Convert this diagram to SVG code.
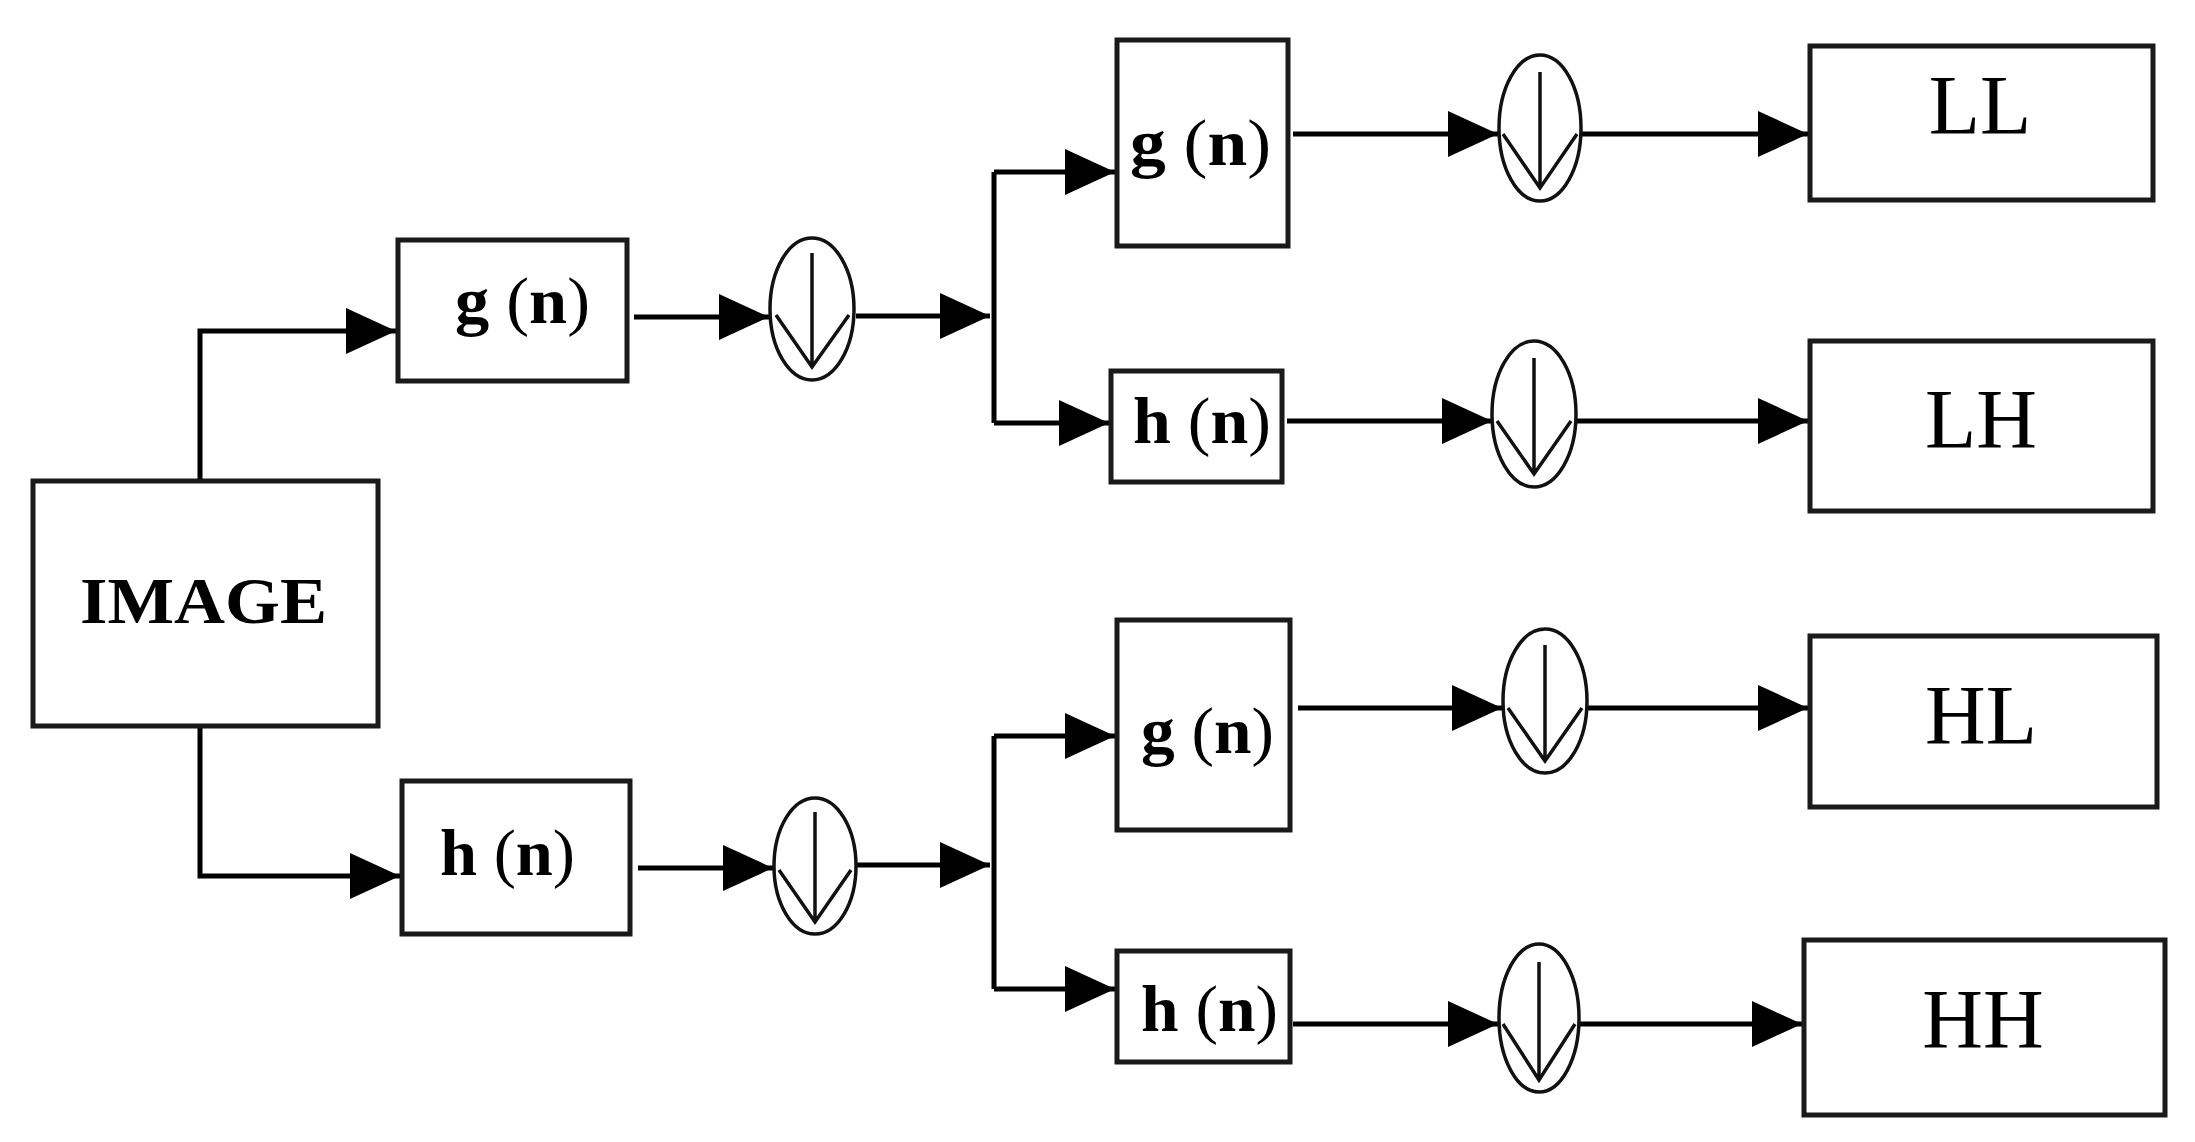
<svg xmlns="http://www.w3.org/2000/svg" width="2195" height="1142" viewBox="0 0 2195 1142">
<style>
.box{fill:#fff;stroke:#1a1a1a;stroke-width:5}
.ell{fill:none;stroke:#111;stroke-width:3.5}
.dn{fill:none;stroke:#111;stroke-width:3.5;stroke-linejoin:miter}
.con{fill:none;stroke:#000;stroke-width:5}
.lbl{font-family:"Liberation Serif","Times New Roman",serif;font-weight:bold;font-size:66px;fill:#000}
.p{font-weight:normal}
.big{font-family:"Liberation Serif","Times New Roman",serif;font-size:84px;fill:#000;text-anchor:middle}
</style>
<defs>
<marker id="ah" viewBox="0 0 50 46" refX="50" refY="23" markerWidth="50" markerHeight="46" markerUnits="userSpaceOnUse" orient="auto">
<path d="M0,0 L50,23 L0,46 Z" fill="#000"/>
</marker>
</defs>
<rect width="2195" height="1142" fill="#fff"/>

<g id="connectors">
<path class="con" d="M200,480 V331 H396" marker-end="url(#ah)"/>
<path class="con" d="M200,727 V876 H400" marker-end="url(#ah)"/>
<path class="con" d="M634,317 H769" marker-end="url(#ah)"/>
<path class="con" d="M856,316 H990" marker-end="url(#ah)"/>
<path class="con" d="M638,868 H773" marker-end="url(#ah)"/>
<path class="con" d="M857,865 H990" marker-end="url(#ah)"/>
<path class="con" d="M994,172 V423"/>
<path class="con" d="M994,736 V989"/>
<path class="con" d="M994,172 H1115" marker-end="url(#ah)"/>
<path class="con" d="M994,423 H1109" marker-end="url(#ah)"/>
<path class="con" d="M994,736 H1115" marker-end="url(#ah)"/>
<path class="con" d="M994,989 H1115" marker-end="url(#ah)"/>
<path class="con" d="M1293,134 H1498" marker-end="url(#ah)"/>
<path class="con" d="M1582,134 H1808" marker-end="url(#ah)"/>
<path class="con" d="M1287,421 H1492" marker-end="url(#ah)"/>
<path class="con" d="M1577,421 H1808" marker-end="url(#ah)"/>
<path class="con" d="M1298,708 H1502" marker-end="url(#ah)"/>
<path class="con" d="M1588,708 H1808" marker-end="url(#ah)"/>
<path class="con" d="M1293,1024 H1498" marker-end="url(#ah)"/>
<path class="con" d="M1580,1024 H1802" marker-end="url(#ah)"/>
</g>

<g id="image">
<rect class="box" x="33" y="481" width="345" height="245"/>
<text class="lbl" x="80" y="623" font-size="70" textLength="247" lengthAdjust="spacingAndGlyphs">IMAGE</text>
</g>

<g id="g1">
<rect class="box" x="398" y="240" width="229" height="141"/>
<text class="lbl" x="455" y="323" textLength="135" lengthAdjust="spacingAndGlyphs">g <tspan class="p">(</tspan>n<tspan class="p">)</tspan></text>
</g>
<g id="h1">
<rect class="box" x="402" y="781" width="228" height="153"/>
<text class="lbl" x="440" y="875" textLength="135" lengthAdjust="spacingAndGlyphs">h <tspan class="p">(</tspan>n<tspan class="p">)</tspan></text>
</g>

<g id="ds1">
<ellipse class="ell" cx="812" cy="309" rx="42" ry="71"/>
<path class="dn" d="M812,253 V367 M776,315 L812,367 L849,315"/>
</g>
<g id="ds2">
<ellipse class="ell" cx="815" cy="866" rx="41" ry="68"/>
<path class="dn" d="M815,812 V922 M779,870 L815,922 L851,870"/>
</g>

<g id="g2">
<rect class="box" x="1117" y="40" width="171" height="206"/>
<text class="lbl" x="1130" y="165" textLength="141" lengthAdjust="spacingAndGlyphs">g <tspan class="p">(</tspan>n<tspan class="p">)</tspan></text>
</g>
<g id="h2">
<rect class="box" x="1111" y="371" width="171" height="111"/>
<text class="lbl" x="1133" y="443" textLength="138" lengthAdjust="spacingAndGlyphs">h <tspan class="p">(</tspan>n<tspan class="p">)</tspan></text>
</g>
<g id="g3">
<rect class="box" x="1117" y="620" width="173" height="210"/>
<text class="lbl" x="1141" y="753" textLength="133" lengthAdjust="spacingAndGlyphs">g <tspan class="p">(</tspan>n<tspan class="p">)</tspan></text>
</g>
<g id="h3">
<rect class="box" x="1117" y="951" width="173" height="111"/>
<text class="lbl" x="1141" y="1031" textLength="137" lengthAdjust="spacingAndGlyphs">h <tspan class="p">(</tspan>n<tspan class="p">)</tspan></text>
</g>

<g id="ds3">
<ellipse class="ell" cx="1540" cy="128" rx="41" ry="73"/>
<path class="dn" d="M1540,72 V188 M1503,134 L1540,188 L1577,134"/>
</g>
<g id="ds4">
<ellipse class="ell" cx="1534" cy="414" rx="42" ry="73"/>
<path class="dn" d="M1534,358 V474 M1497,421 L1534,474 L1571,421"/>
</g>
<g id="ds5">
<ellipse class="ell" cx="1545" cy="701" rx="42" ry="72"/>
<path class="dn" d="M1545,645 V761 M1508,708 L1545,761 L1582,708"/>
</g>
<g id="ds6">
<ellipse class="ell" cx="1539" cy="1018" rx="40" ry="74"/>
<path class="dn" d="M1539,962 V1080 M1503,1024 L1539,1080 L1575,1024"/>
</g>

<g id="LL">
<rect class="box" x="1810" y="46" width="343" height="154"/>
<text class="big" x="1980" y="134">LL</text>
</g>
<g id="LH">
<rect class="box" x="1810" y="341" width="343" height="170"/>
<text class="big" x="1981" y="448">LH</text>
</g>
<g id="HL">
<rect class="box" x="1810" y="636" width="347" height="171"/>
<text class="big" x="1981" y="744">HL</text>
</g>
<g id="HH">
<rect class="box" x="1804" y="940" width="361" height="175"/>
<text class="big" x="1983" y="1048">HH</text>
</g>
</svg>
